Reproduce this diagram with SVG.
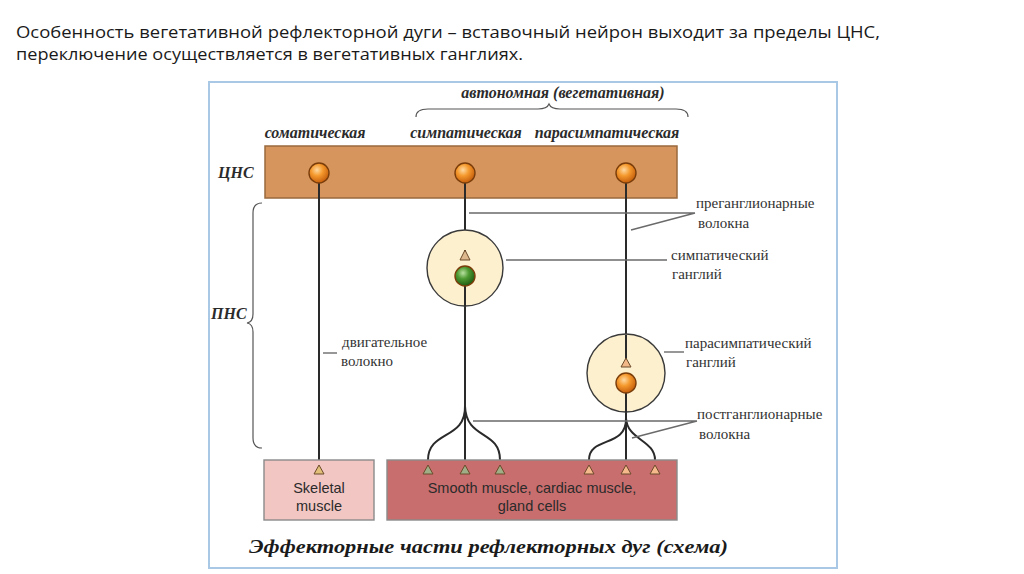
<svg xmlns="http://www.w3.org/2000/svg" width="1024" height="574" viewBox="0 0 1024 574">
<defs>
<radialGradient id="gOr" cx="0.4" cy="0.35" r="0.65">
<stop offset="0" stop-color="#ffd9a0"/>
<stop offset="0.45" stop-color="#f59a2e"/>
<stop offset="1" stop-color="#c75f0c"/>
</radialGradient>
<radialGradient id="gGr" cx="0.4" cy="0.35" r="0.65">
<stop offset="0" stop-color="#b8e0a0"/>
<stop offset="0.45" stop-color="#4e9a32"/>
<stop offset="1" stop-color="#1f5c14"/>
</radialGradient>
<style>
.fiber{fill:none;stroke:#2a2a2a;stroke-width:2}
.lead{fill:none;stroke:#6a6a6a;stroke-width:1.4}
.lbl{font-family:"Liberation Serif","DejaVu Serif",serif;font-size:15px;fill:#333}
.hd{font-family:"Liberation Serif","DejaVu Serif",serif;font-size:16px;font-weight:bold;font-style:italic;fill:#2b2b2b}
.box{font-family:"Liberation Sans",Arial,sans-serif;font-size:14.5px;fill:#2b2b2b;text-anchor:middle}
.neuron{stroke:#7a3d0a;stroke-width:1.4}
.tri{stroke:#6b4a2a;stroke-width:1}
.gang{fill:#fdf0cf;stroke:#3a3a3a;stroke-width:1.4}
</style>
</defs>
<rect width="1024" height="574" fill="#ffffff"/>
<g id="title" font-family="'Open Sans','Liberation Sans',sans-serif" font-size="16.5" fill="#1a1a1a">
<text x="16" y="38" textLength="864" lengthAdjust="spacingAndGlyphs">Особенность вегетативной рефлекторной дуги – вставочный нейрон выходит за пределы ЦНС,</text>
<text x="16" y="60" textLength="507" lengthAdjust="spacingAndGlyphs">переключение осуществляется в вегетативных ганглиях.</text>
</g>
<rect id="frame" x="209" y="82" width="628" height="486" fill="#ffffff" stroke="#a9c8e6" stroke-width="2"/>

<g id="headers">
<text class="hd" x="563" y="98" text-anchor="middle">автономная (вегетативная)</text>
<path d="M416,117 Q416,109 428,109 L538,109 Q547,109 549,104 Q551,109 560,109 L676,109 Q688,109 688,117" fill="none" stroke="#555" stroke-width="1.2"/>
<text class="hd" x="315" y="138" text-anchor="middle">соматическая</text>
<text class="hd" x="466" y="138" text-anchor="middle">симпатическая</text>
<text class="hd" x="607" y="138" text-anchor="middle">парасимпатическая</text>
</g>

<g id="cns">
<rect x="265" y="146" width="412" height="52" fill="#d6955d" stroke="#9a6a3e" stroke-width="1.5"/>
<text class="hd" x="218" y="178" font-size="18">ЦНС</text>
</g>

<g id="pns">
<text class="hd" x="211" y="319" font-size="18">ПНС</text>
<path d="M262,203 Q253,203 253,213 L253,314 Q253,322 247,323 Q253,324 253,332 L253,438 Q253,448 262,448" fill="none" stroke="#555" stroke-width="1.2"/>
</g>

<g id="connectors">
<!-- somatic -->
<line class="fiber" x1="319" y1="183" x2="319" y2="466"/>
<!-- sympathetic preganglionic -->
<line class="fiber" x1="465" y1="183" x2="465" y2="253"/>
<!-- sympathetic postganglionic -->
<line class="fiber" x1="465" y1="285" x2="465" y2="466"/>
<path class="fiber" d="M465,406 C466,440 428,430 428,460 L428,466"/>
<path class="fiber" d="M465,406 C466,440 500,430 500,460 L500,466"/>
<!-- parasympathetic preganglionic -->
<line class="fiber" x1="626" y1="183" x2="626" y2="361"/>
<!-- parasympathetic postganglionic -->
<line class="fiber" x1="626" y1="393" x2="626" y2="466"/>
<path class="fiber" d="M626,418 C627,448 589,436 589,460 L589,466"/>
<path class="fiber" d="M626,418 C627,440 655,440 655,460 L655,466"/>
<!-- leaders -->
<path class="lead" d="M469,213 L695,213 M695,213 L631,230"/>
<line class="lead" x1="506" y1="260" x2="667" y2="260"/>
<line class="lead" x1="664" y1="352" x2="684" y2="352"/>
<path class="lead" d="M473,421 L697,421 M697,421 L632,438"/>
<line class="lead" x1="323" y1="353" x2="337" y2="353"/>
</g>

<g id="labels">
<text class="lbl" x="696" y="208">преганглионарные</text>
<text class="lbl" x="698" y="228">волокна</text>
<text class="lbl" x="671" y="260">симпатический</text>
<text class="lbl" x="672" y="279">ганглий</text>
<text class="lbl" x="685" y="348">парасимпатический</text>
<text class="lbl" x="686" y="367">ганглий</text>
<text class="lbl" x="697" y="419">постганглионарные</text>
<text class="lbl" x="699" y="439">волокна</text>
<text class="lbl" x="342" y="347">двигательное</text>
<text class="lbl" x="341" y="366">волокно</text>
</g>

<g id="symp-ganglion">
<circle class="gang" cx="465" cy="268" r="38"/>
<line class="fiber" x1="465" y1="250" x2="465" y2="253"/>
<polygon class="tri" points="465,250 460,260 470,260" fill="#dcb88c"/>
<line class="fiber" x1="465" y1="276" x2="465" y2="306"/>
<circle class="neuron" cx="465" cy="276" r="10" fill="url(#gGr)" stroke="#1d4a12"/>
</g>

<g id="para-ganglion">
<circle class="gang" cx="626" cy="373" r="39"/>
<line class="fiber" x1="626" y1="335" x2="626" y2="361"/>
<polygon class="tri" points="626,358 621,367 631,367" fill="#f2b888"/>
<line class="fiber" x1="626" y1="383" x2="626" y2="412"/>
<circle class="neuron" cx="626" cy="383" r="10" fill="url(#gOr)"/>
</g>

<g id="cns-neurons">
<circle class="neuron" cx="319" cy="173" r="10" fill="url(#gOr)"/>
<circle class="neuron" cx="465" cy="173" r="10" fill="url(#gOr)"/>
<circle class="neuron" cx="626" cy="173" r="10" fill="url(#gOr)"/>
</g>

<g id="skeletal">
<rect x="264" y="460" width="110" height="60" fill="#f2c6c3" stroke="#8a8a8a" stroke-width="1.4"/>
<polygon class="tri" points="319,465 314,474 324,474" fill="#e2c07a"/>
<text class="box" x="319" y="493">Skeletal</text>
<text class="box" x="319" y="511">muscle</text>
</g>

<g id="smooth">
<rect x="387" y="460" width="290" height="60" fill="#c96e6e" stroke="#8a8a8a" stroke-width="1.4"/>
<polygon class="tri" points="428,465 423,474 433,474" fill="#9fae86"/>
<polygon class="tri" points="465,465 460,474 470,474" fill="#9fae86"/>
<polygon class="tri" points="500,465 495,474 505,474" fill="#9fae86"/>
<polygon class="tri" points="589,465 584,474 594,474" fill="#f5b98c"/>
<polygon class="tri" points="626,465 621,474 631,474" fill="#f5b98c"/>
<polygon class="tri" points="655,465 650,474 660,474" fill="#f5b98c"/>
<text class="box" x="532" y="493">Smooth muscle, cardiac muscle,</text>
<text class="box" x="532" y="511">gland cells</text>
</g>

<text id="caption" x="249" y="553" font-family="'Liberation Serif','DejaVu Serif',serif" font-size="19" font-weight="bold" font-style="italic" fill="#1a1a1a" textLength="479" lengthAdjust="spacingAndGlyphs">Эффекторные части рефлекторных дуг (схема)</text>
</svg>
